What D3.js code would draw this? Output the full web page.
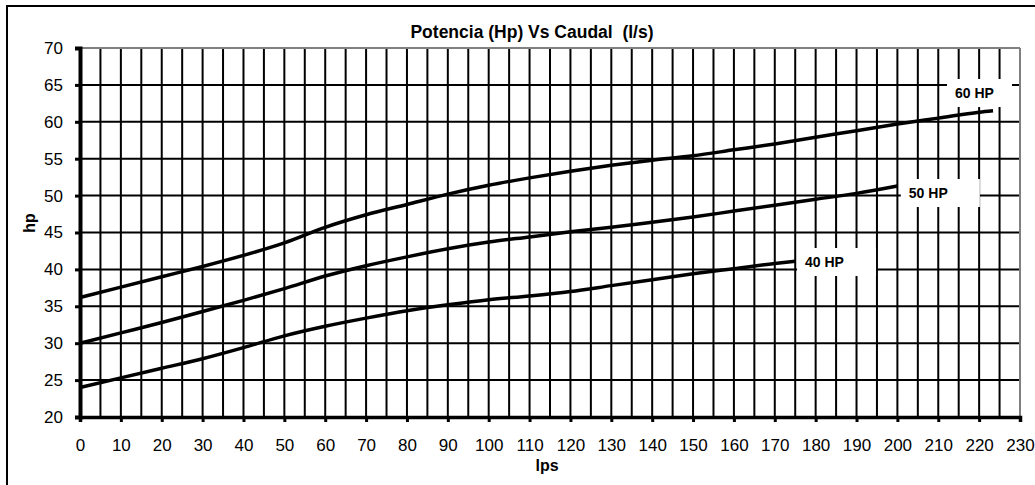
<!DOCTYPE html>
<html>
<head>
<meta charset="utf-8">
<script src="https://cdn.jsdelivr.net/npm/d3@7"></script>
<style>
  html, body { margin: 0; padding: 0; background: #fff; }
  svg { display: block; }
  text { font-family: "Liberation Sans", Arial, sans-serif; fill: #000; }
</style>
</head>
<body>
<svg id="chart" width="1035" height="485"></svg>
<script>
// Caudal (l/s) sampled every 10 lps
const lps40 = [0, 10, 20, 30, 40, 50, 60, 70, 80, 90, 100, 110, 120, 130, 140, 150, 160, 170, 175];
const hp40  = [24.0, 25.3, 26.6, 27.9, 29.4, 31.0, 32.3, 33.4, 34.4, 35.2, 35.9, 36.4, 37.0, 37.8, 38.6, 39.4, 40.1, 40.8, 41.1];

const lps50 = [0, 10, 20, 30, 40, 50, 60, 70, 80, 90, 100, 110, 120, 130, 140, 150, 160, 170, 180, 190, 200];
const hp50  = [30.0, 31.4, 32.8, 34.3, 35.8, 37.4, 39.1, 40.5, 41.7, 42.8, 43.7, 44.4, 45.1, 45.7, 46.4, 47.1, 47.9, 48.7, 49.5, 50.3, 51.3];

const lps60 = [0, 10, 20, 30, 40, 50, 60, 70, 80, 90, 100, 110, 120, 130, 140, 150, 160, 170, 180, 190, 200, 210, 220, 223.4];
const hp60  = [36.2, 37.6, 39.0, 40.4, 41.9, 43.6, 45.7, 47.4, 48.8, 50.2, 51.4, 52.4, 53.3, 54.1, 54.8, 55.4, 56.2, 57.0, 57.9, 58.8, 59.7, 60.5, 61.3, 61.5];

const seriesNames = ["40 HP", "50 HP", "60 HP"];
// where each curve's name sits, in chart units (lps, hp)
const labelLps = [177.4, 202.8, 214.1];
const labelHp  = [41.0, 50.35, 63.9];

const xTicks = d3.range(0, 231, 10);
const yTicks = d3.range(20, 71, 5);
const xGrid  = d3.range(0, 231, 5);

const title = "Potencia (Hp) Vs Caudal\u00a0 (l/s)";
const xTitle = "lps";
const yTitle = "hp";

const svg = d3.select("#chart");
const plot = { left: 80, right: 1020, top: 48, bottom: 417 };

const x = d3.scaleLinear().domain([0, 230]).range([plot.left, plot.right]);
const y = d3.scaleLinear().domain([20, 70]).range([plot.bottom, plot.top]);

// outer frame
svg.append("rect")
  .attr("x", 7).attr("y", 6).attr("width", 1040).attr("height", 490)
  .attr("fill", "#fff").attr("stroke", "#000").attr("stroke-width", 2);

// title
svg.append("text")
  .attr("x", 532).attr("y", 38)
  .attr("text-anchor", "middle")
  .style("font-size", "17.5px").style("font-weight", "bold")
  .text(title);

// grid
const g = svg.append("g");
g.selectAll("line.vg").data(xGrid.filter(d => d > 0 && d < 230)).join("line")
  .attr("class", "vg")
  .attr("x1", d => x(d)).attr("x2", d => x(d))
  .attr("y1", plot.top).attr("y2", plot.bottom)
  .attr("stroke", "#000").attr("stroke-width", 2);
g.selectAll("line.hg").data(yTicks.filter(d => d > 20 && d < 70)).join("line")
  .attr("class", "hg")
  .attr("x1", plot.left).attr("x2", plot.right)
  .attr("y1", d => y(d)).attr("y2", d => y(d))
  .attr("stroke", "#000").attr("stroke-width", 2);

// plot frame (top and right in grey)
g.append("line")
  .attr("x1", plot.left).attr("x2", plot.right)
  .attr("y1", plot.top).attr("y2", plot.top)
  .attr("stroke", "#808080").attr("stroke-width", 2);
g.append("line")
  .attr("x1", plot.right).attr("x2", plot.right)
  .attr("y1", plot.top).attr("y2", plot.bottom)
  .attr("stroke", "#808080").attr("stroke-width", 2);

// label boxes
const labels = seriesNames.map((name, i) => ({ name, lps: labelLps[i], hp: labelHp[i] }));
const lab = svg.append("g");
lab.selectAll("rect").data(labels).join("rect")
  .attr("x", d => x(d.lps) - 8)
  .attr("y", d => y(d.hp) - 14)
  .attr("width", d => Math.min(79, plot.right - 8 - (x(d.lps) - 8)))
  .attr("height", 28)
  .attr("fill", "#fff");

// curves
const line = d3.line().x(d => x(d[0])).y(d => y(d[1])).curve(d3.curveMonotoneX);
const curves = [
  d3.zip(lps40, hp40),
  d3.zip(lps50, hp50),
  d3.zip(lps60, hp60)
];
svg.append("g").selectAll("path").data(curves).join("path")
  .attr("d", line)
  .attr("fill", "none").attr("stroke", "#000").attr("stroke-width", 3.5)
  .attr("stroke-linecap", "butt");

lab.selectAll("text").data(labels).join("text")
  .attr("x", d => x(d.lps))
  .attr("y", d => y(d.hp))
  .attr("dy", "0.35em")
  .style("font-size", "14px").style("font-weight", "bold")
  .text(d => d.name);

// axes
const xAxis = d3.axisBottom(x).tickValues(xTicks).tickSize(5).tickPadding(17);
const yAxis = d3.axisLeft(y).tickValues(yTicks).tickSize(5).tickPadding(12);

const gx = svg.append("g").attr("transform", `translate(0,${plot.bottom})`).call(xAxis);
gx.select(".domain").attr("stroke", "#000").attr("stroke-width", 3.5);
gx.selectAll(".tick line").attr("stroke", "#000").attr("stroke-width", 3);
gx.selectAll(".tick text").style("font-size", "17px").style("font-family", "'Liberation Sans', Arial, sans-serif").attr("fill", "#000");

const gy = svg.append("g").attr("transform", `translate(${plot.left},0)`).call(yAxis);
gy.select(".domain").attr("stroke", "#000").attr("stroke-width", 4);
gy.selectAll(".tick line").attr("stroke", "#000").attr("stroke-width", 3);
gy.selectAll(".tick text").style("font-size", "17px").style("font-family", "'Liberation Sans', Arial, sans-serif").attr("fill", "#000");

// axis titles
svg.append("text")
  .attr("x", 547).attr("y", 471)
  .attr("text-anchor", "middle")
  .style("font-size", "16px").style("font-weight", "bold")
  .text(xTitle);
svg.append("text")
  .attr("transform", "translate(35,223) rotate(-90)")
  .attr("text-anchor", "middle")
  .style("font-size", "16px").style("font-weight", "bold")
  .text(yTitle);
</script>
</body>
</html>
